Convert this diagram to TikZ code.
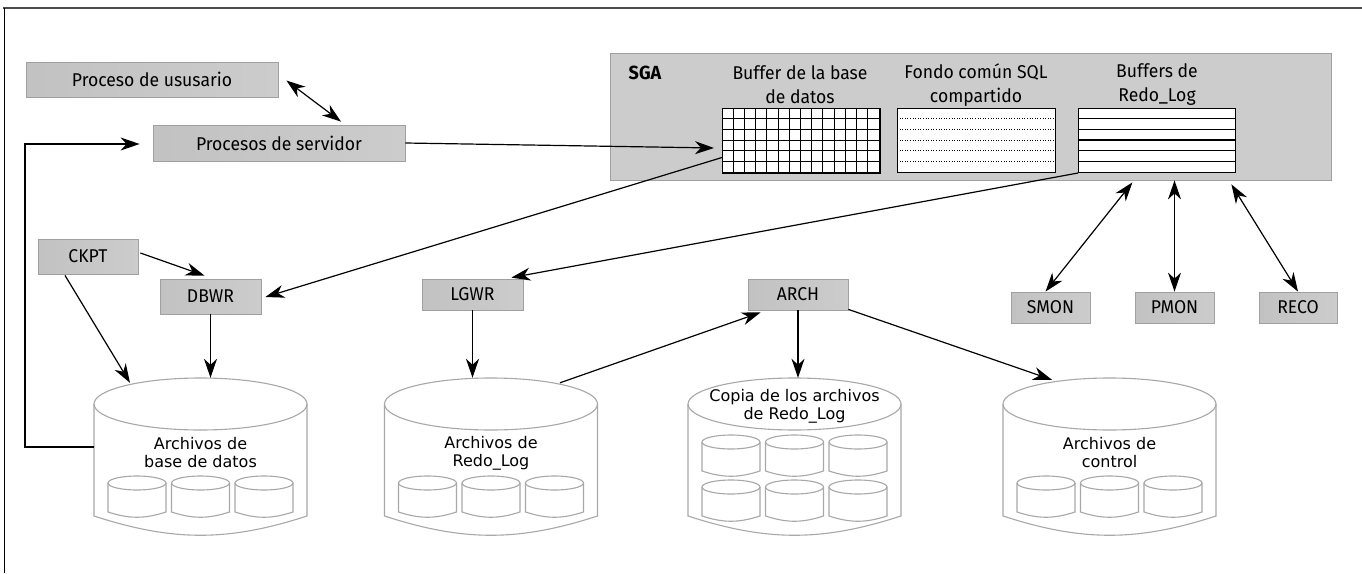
\documentclass[tikz,border=0pt]{standalone}
\usepackage{fontspec}
\newfontfamily\boxfont[FakeStretch=0.95]{Fira Sans}
\newfontfamily\cylfont{DejaVu Sans}
\usetikzlibrary{arrows.meta,calc}
\definecolor{sgagray}{HTML}{CCCCCC}
\definecolor{edgegray}{HTML}{A0A0A0}
\definecolor{cylgray}{HTML}{A8A8A8}
\newcommand\mycylbig[2]{%
  \node[cylbox] (#1) at (#2,456.5) {};
  \draw[cylline] (#2,404) ellipse [x radius=106.5, y radius=26];
  \draw[cylline] (#2-106.5,404) -- (#2-106.5,516) to[bend right=18] (#2+106.5,516) -- (#2+106.5,404);
}
\newcommand\mycylsmall[2]{%
  \draw[cylline] (#1,#2+7) ellipse [x radius=29, y radius=7];
  \draw[cylline] (#1-29,#2+7) -- (#1-29,#2+36) to[bend right=18] (#1+29,#2+36) -- (#1+29,#2+7);
}
\begin{document}
\begin{tikzpicture}[x=1pt,y=-1pt,
  proc/.style={draw=edgegray, line width=0.8pt, left color=black!24, middle color=black!4, right color=black!20,
    inner sep=0pt, font=\boxfont\fontsize{18.5}{21}\selectfont},
  cylbox/.style={draw=none, minimum width=213pt, minimum height=157pt, inner sep=0pt},
  cylline/.style={draw=cylgray, line width=1.1pt},
  cyltext/.style={font=\cylfont\fontsize{16}{18}\selectfont, align=center, inner sep=0pt},
  sgatext/.style={font=\boxfont\fontsize{18.5}{24}\selectfont, align=center, inner sep=0pt},
  arr/.style={line width=1.2pt, -{Stealth[length=19pt,width=13pt,inset=6pt]}},
  darr/.style={line width=1.2pt, {Stealth[length=19pt,width=13pt,inset=6pt]}-{Stealth[length=19pt,width=13pt,inset=6pt]}},
  cell/.style={draw=black, fill=white, line width=1pt, inner sep=0pt, minimum width=157pt, minimum height=64pt, anchor=north west}
]
\useasboundingbox (0,0) rectangle (1362,573);
\fill[white] (0,0) rectangle (1362,573);
% frame
\draw[line width=1.6pt, black!70] (3,8) -- (1362,8);
\draw[line width=1pt] (4,8) -- (4,573);

% process boxes
\node[proc, minimum width=252pt, minimum height=35pt] (user) at (152,79.5) {Proceso de ususario};
\node[proc, minimum width=252pt, minimum height=36pt] (server) at (279,143) {Procesos de servidor};
\node[proc, minimum width=100pt, minimum height=35pt] (ckpt) at (88,256.5) {CKPT};
\node[proc, minimum width=101pt, minimum height=35pt] (dbwr) at (210.5,296.5) {DBWR};
\node[proc, minimum width=101pt, minimum height=31pt] (lgwr) at (472.5,294.5) {LGWR};
\node[proc, minimum width=100pt, minimum height=31pt] (arch) at (798,294.5) {ARCH};
\node[proc, minimum width=79pt, minimum height=31pt] (smon) at (1050.5,307.5) {SMON};
\node[proc, minimum width=79pt, minimum height=31pt] (pmon) at (1174.5,307.5) {PMON};
\node[proc, minimum width=78pt, minimum height=31pt] (reco) at (1298,307.5) {RECO};

% SGA
\node[draw=edgegray, fill=sgagray, line width=0.8pt, minimum width=721pt, minimum height=127pt, inner sep=0pt] (sga) at (970.5,116.5) {};
\node[font=\boxfont\bfseries\fontsize{19}{22}\selectfont, inner sep=0pt] (sgalabel) at (645,73) {SGA};
\node[sgatext] (l1) at (800,85) {Buffer de la base\\de datos};
\node[sgatext] (l2) at (976,85) {Fondo común SQL\\compartido};
\node[sgatext] (l3) at (1157,85) {Buffers de\\Redo\_Log};

\node[cell] (grid) at (722,108) {};
\foreach \i in {1,...,13} \draw[line width=1pt] (722+\i*11.214,108) -- (722+\i*11.214,172);
\foreach \j in {1,...,5} \draw[line width=1pt] (722,108+\j*10.667) -- (879,108+\j*10.667);
\draw[line width=1pt] (grid.north west) rectangle (grid.south east);

\node[cell, minimum width=158pt] (pool) at (897,108) {};
\foreach \j in {1,...,5} \draw[line width=0.6pt, dotted] (897,108+\j*10.667) -- (1055,108+\j*10.667);

\node[cell] (rbuf) at (1078,108) {};
\foreach \j in {1,...,5} \draw[line width=1.2pt] (1078,108+\j*10.667) -- (1235,108+\j*10.667);

% cylinders
\mycylbig{db}{200.5}
\mycylbig{redo}{491}
\mycylbig{copia}{794.5}
\mycylbig{ctrl}{1109.5}
\foreach \c in {200.5,491,1109.5} {
  \mycylsmall{\c-63.5}{476}
  \mycylsmall{\c}{476}
  \mycylsmall{\c+63.5}{476}
}
\foreach \t in {435,480} {
  \mycylsmall{794.5-63.5}{\t}
  \mycylsmall{794.5}{\t}
  \mycylsmall{794.5+63.5}{\t}
}
\node[cyltext] (t1) at (200.5,453) {Archivos de\\base de datos};
\node[cyltext] (t2) at (491,453) {Archivos de\\Redo\_Log};
\node[cyltext] (t3) at (794.5,406) {Copia de los archivos\\de Redo\_Log};
\node[cyltext] (t4) at (1109.5,453) {Archivos de\\control};

% connectors
\draw[darr] ([shift={(8,1)}]user.east) -- ([shift={(62,-3)}]server.north);
\draw[arr] ([shift={(0,-9.5)}]db.west) -- (25,447) -- (25,144) -- ([shift={(-13,1)}]server.west);
\draw[arr] (server.east) -- ([shift={(-8,5)}]grid.west |- server.east);
\draw[arr] ([shift={(0,17)}]grid.west) -- ([shift={(4,0.5)}]dbwr.east);
\draw[arr] (rbuf.south west) -- ([shift={(-12,-1)}]lgwr.north east);
\draw[arr] ([shift={(2,-3.5)}]ckpt.east) -- ([shift={(-6,-3)}]dbwr.north);
\draw[arr] ([shift={(-23,1)}]ckpt.south) -- ([shift={(-70.5,5)}]db.north);
\draw[arr] (dbwr.south) -- (dbwr.south |- db.north);
\draw[arr] (lgwr.south) -- (lgwr.south |- redo.north);
\draw[arr] ([shift={(69,5)}]redo.north) -- ([shift={(13,2)}]arch.south west);
\draw[arr] (arch.south) -- (arch.south |- copia.north);
\draw[arr] ([shift={(0,-1)}]arch.south east) -- ([shift={(-57.5,2)}]ctrl.north);
\draw[darr] ([shift={(-199,2)}]sga.south east) -- ([shift={(-5,0)}]smon.north);
\draw[darr] (pmon.north |- sga.south) -- (pmon.north);
\draw[darr] ([shift={(-100,4)}]sga.south east) -- (reco.north);
\end{tikzpicture}
\end{document}
